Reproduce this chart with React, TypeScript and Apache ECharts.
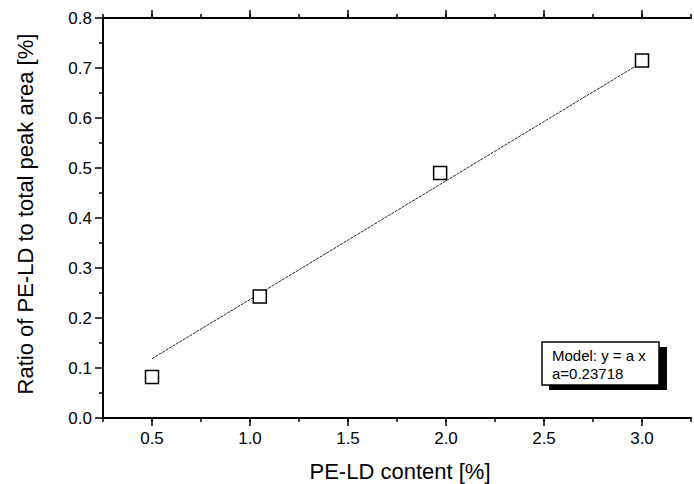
import React, { useEffect, useRef } from "react";
import * as echarts from "echarts";

const pointsX = [0.5, 1.05, 1.97, 3.0];
const pointsY = [0.082, 0.243, 0.49, 0.715];
const fitLine = [
  [0.5, 0.1186],
  [3.0, 0.7115],
];
const xMajorTicks = [0.5, 1.0, 1.5, 2.0, 2.5, 3.0];
const xTickLabels = ["", "0.5", "", "1.0", "", "1.5", "", "2.0", "", "2.5", "", "3.0", ""];
const yTickLabels = ["0.0", "0.1", "0.2", "0.3", "0.4", "0.5", "0.6", "0.7", "0.8"];
const xTitle = "PE-LD content [%]";
const yTitle = "Ratio of PE-LD to total peak area [%]";
const modelLines = ["Model: y = a x", "a=0.23718"];

const FONT = "Liberation Sans, Arial, Helvetica, sans-serif";

export default function App() {
  const ref = useRef<HTMLDivElement>(null);
  useEffect(() => {
    if (!ref.current) return;
    const chart = echarts.init(ref.current, null, { renderer: "svg" });
    const baseX = {
      type: "value",
      min: 0.25,
      max: 3.25,
      interval: 0.25,
      splitLine: { show: false },
    };
    const tickLabelStyle = { color: "#000", fontSize: 17, fontFamily: FONT };
    chart.setOption({
      animation: false,
      backgroundColor: "#fff",
      grid: { left: 103, right: 1, top: 18, bottom: 66 },
      xAxis: [
        {
          ...baseX,
          position: "bottom",
          axisLine: { show: true, onZero: false, lineStyle: { color: "#000", width: 2 } },
          axisTick: { show: true, length: 4, lineStyle: { color: "#000", width: 1.5 } },
          axisLabel: { show: false },
        },
        {
          ...baseX,
          position: "bottom",
          axisLine: { show: false, onZero: false },
          axisTick: {
            show: true,
            length: 8,
            customValues: xMajorTicks,
            lineStyle: { color: "#000", width: 1.5 },
          },
          axisLabel: { show: false },
        },
        {
          ...baseX,
          position: "top",
          axisLine: { show: true, onZero: false, lineStyle: { color: "#000", width: 2 } },
          axisTick: { show: true, length: 4, lineStyle: { color: "#000", width: 1.5 } },
          axisLabel: { show: false },
        },
        {
          ...baseX,
          position: "top",
          axisLine: { show: false, onZero: false },
          axisTick: {
            show: true,
            length: 8,
            customValues: xMajorTicks,
            lineStyle: { color: "#000", width: 1.5 },
          },
          axisLabel: { show: false },
        },
        {
          type: "category",
          position: "bottom",
          data: xTickLabels,
          boundaryGap: false,
          axisLine: { show: false, onZero: false },
          axisTick: { show: false },
          splitLine: { show: false },
          axisLabel: { ...tickLabelStyle, interval: 0, margin: 12 },
        },
      ],
      yAxis: [
        {
          type: "value",
          position: "left",
          min: 0,
          max: 0.8,
          interval: 0.1,
          splitLine: { show: false },
          axisLine: { show: true, onZero: false, lineStyle: { color: "#000", width: 2 } },
          axisTick: { show: true, length: 8, lineStyle: { color: "#000", width: 1.5 } },
          minorTick: { show: true, splitNumber: 2, length: 4, lineStyle: { color: "#000", width: 1.5 } },
          axisLabel: { show: false },
        },
        {
          type: "category",
          position: "left",
          data: yTickLabels,
          boundaryGap: false,
          axisLine: { show: false, onZero: false },
          axisTick: { show: false },
          splitLine: { show: false },
          axisLabel: { ...tickLabelStyle, interval: 0, margin: 11 },
        },
      ],
      series: [
        {
          type: "line",
          xAxisIndex: 0,
          yAxisIndex: 0,
          data: fitLine,
          symbol: "none",
          lineStyle: { color: "#222", width: 1, type: [3, 1] },
          z: 2,
        },
        {
          type: "scatter",
          xAxisIndex: 0,
          yAxisIndex: 0,
          data: pointsX.map((x, i) => [x, pointsY[i]]),
          symbol: "rect",
          symbolSize: 13,
          itemStyle: { color: "#fff", borderColor: "#000", borderWidth: 1.5, opacity: 1 },
          z: 3,
        },
      ],
      graphic: [
        {
          type: "text",
          x: 400,
          y: 471,
          style: {
            text: xTitle,
            fill: "#000",
            font: `22px ${FONT}`,
            textAlign: "center",
            textVerticalAlign: "middle",
          },
        },
        {
          type: "text",
          x: 25,
          y: 214,
          rotation: Math.PI / 2,
          style: {
            text: yTitle,
            fill: "#000",
            font: `22px ${FONT}`,
            textAlign: "center",
            textVerticalAlign: "middle",
          },
        },
        {
          type: "rect",
          shape: { x: 549, y: 347, width: 118, height: 43 },
          style: { fill: "#000" },
          z: 10,
        },
        {
          type: "rect",
          shape: { x: 542, y: 342, width: 117, height: 43 },
          style: { fill: "#fff", stroke: "#000", lineWidth: 1.5 },
          z: 11,
        },
        {
          type: "text",
          x: 552,
          y: 346,
          style: {
            text: modelLines.join("\n"),
            fill: "#000",
            font: `15px ${FONT}`,
            lineHeight: 18,
          },
          z: 12,
        },
      ],
    });
    return () => chart.dispose();
  }, []);
  return (
    <div
      ref={ref}
      style={{ position: "fixed", left: 0, top: 0, width: 694, height: 484, background: "#fff" }}
    />
  );
}
